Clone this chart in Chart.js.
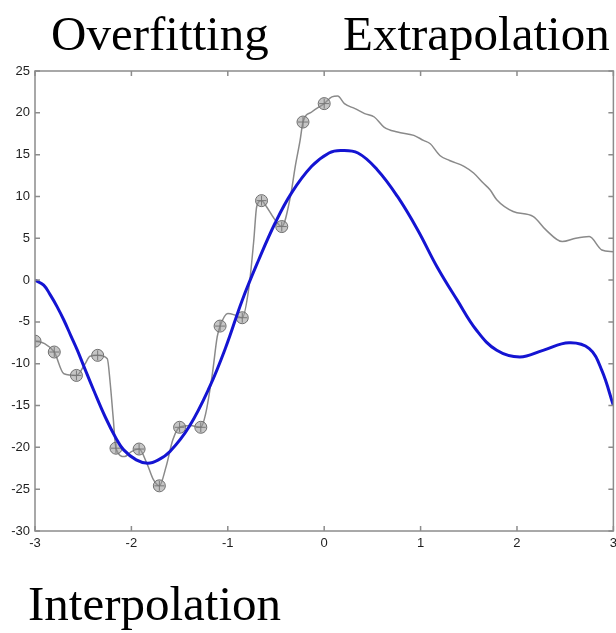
<!DOCTYPE html>
<html>
<head>
<meta charset="utf-8">
<script src="https://cdn.jsdelivr.net/npm/chart.js@4.4.1/dist/chart.umd.min.js"></script>
<style>
  html, body { margin: 0; padding: 0; background: #fff; overflow: hidden; }
  body { width: 616px; height: 633px; position: relative; }
  #wrap { position: absolute; left: 0; top: 0; width: 622px; height: 560px; }
  .lbl { position: absolute; font-family: "Liberation Serif", "Times New Roman", serif; font-size: 49px; color: #000; line-height: 1; white-space: nowrap; }
</style>
</head>
<body>
<div class="lbl" style="left:51px; top:9px;">Overfitting</div>
<div class="lbl" style="left:343px; top:9px;">Extrapolation</div>
<div class="lbl" style="left:28px; top:579px;">Interpolation</div>
<div id="wrap"><canvas id="c" width="622" height="560"></canvas></div>
<script>
// observed training points
const dataX = [-3, -2.8, -2.57, -2.35, -2.16, -1.92, -1.71, -1.5, -1.28, -1.08, -0.85, -0.65, -0.44, -0.22, 0];
const dataY = [-7.3, -8.6, -11.4, -9.0, -20.1, -20.2, -24.6, -17.6, -17.6, -5.5, -4.5, 9.5, 6.4, 18.9, 21.1];

// overfitted model (gray)
const grayX = [-3, -2.9, -2.8, -2.7, -2.57, -2.48, -2.43, -2.35, -2.25, -2.22, -2.19, -2.16, -2.07, -2.0, -1.92,
  -1.84, -1.77, -1.71, -1.64, -1.57, -1.5, -1.39, -1.28, -1.23, -1.16, -1.11, -1.08, -1.0, -0.92, -0.85,
  -0.78, -0.73, -0.7, -0.65, -0.6, -0.51, -0.44, -0.35, -0.3, -0.25, -0.22, -0.13, 0, 0.08, 0.14,
  0.21, 0.32, 0.42, 0.52, 0.62, 0.76, 0.93, 1.03, 1.1, 1.2, 1.3, 1.45, 1.55, 1.65, 1.72,
  1.79, 1.96, 2.17, 2.3, 2.47, 2.61, 2.75, 2.88, 3];
const grayY = [-7.3, -7.6, -8.6, -11.2, -11.4, -10.0, -9.1, -9.0, -9.4, -12.3, -16.3, -20.1, -21.1, -20.5, -20.2,
  -21.9, -23.9, -24.6, -22.3, -19.1, -17.6, -17.4, -17.6, -16.0, -11.2, -6.8, -5.5, -4.0, -4.2, -4.5,
  -0.8, 4.8, 8.8, 9.5, 8.8, 7.2, 6.4, 10.0, 13.6, 16.7, 18.9, 20.1, 21.1, 21.9, 22.0,
  21.1, 20.5, 19.9, 19.5, 18.3, 17.7, 17.3, 16.7, 16.3, 14.9, 14.3, 13.6, 12.8, 11.6, 10.8,
  9.6, 8.2, 7.6, 6.0, 4.6, 5.0, 5.2, 3.6, 3.4];

// smooth model (blue)
const blueX = [-3, -2.91, -2.84, -2.77, -2.7, -2.63, -2.56, -2.49, -2.39, -2.27, -2.16, -2.08, -1.95, -1.83, -1.72,
  -1.6, -1.4, -1.19, -1.02, -0.85, -0.68, -0.51, -0.34, -0.13, 0.05, 0.17, 0.35, 0.55, 0.76, 0.97,
  1.17, 1.38, 1.58, 1.79, 2.03, 2.27, 2.54, 2.75, 2.88, 3];
const blueY = [0, -0.6, -1.8, -3.2, -4.8, -6.6, -8.4, -10.4, -13.2, -16.4, -18.9, -20.3, -21.5, -21.9, -21.5,
  -20.5, -17.5, -12.8, -8.0, -2.4, 2.4, 6.8, 10.4, 13.6, 15.2, 15.5, 15.2, 13.2, 10.0, 6.0,
  1.6, -2.4, -6.0, -8.4, -9.2, -8.4, -7.5, -8.2, -10.8, -15.0];

const xTicks = [-3, -2, -1, 0, 1, 2, 3];
const yTicks = [-30, -25, -20, -15, -10, -5, 0, 5, 10, 15, 20, 25];

const pts = (xs, ys) => xs.map((x, i) => ({ x: x, y: ys[i] }));

// matlab-ish box with inward ticks
const boxTicks = {
  id: "boxTicks",
  afterDraw(chart) {
    const { ctx, chartArea: a, scales: { x, y } } = chart;
    ctx.save();
    ctx.strokeStyle = "#8c8c8c";
    ctx.lineWidth = 1.5;
    ctx.strokeRect(a.left, a.top, a.right - a.left, a.bottom - a.top);
    ctx.beginPath();
    xTicks.forEach(v => {
      const px = x.getPixelForValue(v);
      ctx.moveTo(px, a.bottom); ctx.lineTo(px, a.bottom - 5);
      ctx.moveTo(px, a.top); ctx.lineTo(px, a.top + 5);
    });
    yTicks.forEach(v => {
      const py = y.getPixelForValue(v);
      ctx.moveTo(a.left, py); ctx.lineTo(a.left + 5, py);
      ctx.moveTo(a.right, py); ctx.lineTo(a.right - 5, py);
    });
    ctx.stroke();
    ctx.restore();
  }
};

const tickFont = { family: "'Liberation Sans', Arial, sans-serif", size: 13 };

new Chart(document.getElementById("c"), {
  type: "line",
  data: {
    datasets: [
      {
        data: pts(blueX, blueY),
        borderColor: "#1414d2",
        borderWidth: 3,
        pointRadius: 0,
        tension: 0.4,
        order: 1
      },
      {
        data: pts(grayX, grayY),
        borderColor: "#8a8a8a",
        borderWidth: 1.5,
        pointRadius: 0,
        cubicInterpolationMode: "monotone",
        order: 3
      },
      {
        data: pts(dataX, dataY),
        showLine: false,
        pointStyle: "circle",
        pointRadius: 6,
        pointBackgroundColor: "rgba(150,150,150,0.55)",
        pointBorderColor: "#6e6e6e",
        pointBorderWidth: 1,
        order: 2
      },
      {
        data: pts(dataX, dataY),
        showLine: false,
        pointStyle: "cross",
        pointRadius: 5,
        pointBorderColor: "#555",
        pointBorderWidth: 1,
        order: 2
      }
    ]
  },
  options: {
    responsive: false,
    animation: false,
    devicePixelRatio: 1,
    layout: { padding: { top: 71, right: 0, left: 0, bottom: 0 } },
    plugins: { legend: { display: false }, tooltip: { enabled: false } },
    scales: {
      x: {
        type: "linear",
        min: -3, max: 3,
        afterFit: s => { s.height = 29; },
        afterBuildTicks: s => { s.ticks = xTicks.map(v => ({ value: v })); },
        grid: { display: false, drawTicks: false },
        border: { display: false },
        ticks: { color: "#1e1e1e", font: tickFont, padding: 5, maxRotation: 0 }
      },
      y: {
        min: -30, max: 25,
        afterFit: s => { s.width = 35; },
        afterBuildTicks: s => { s.ticks = yTicks.map(v => ({ value: v })); },
        grid: { display: false, drawTicks: false },
        border: { display: false },
        ticks: { color: "#1e1e1e", font: tickFont, padding: 5 }
      }
    }
  },
  plugins: [boxTicks]
});
</script>
</body>
</html>
